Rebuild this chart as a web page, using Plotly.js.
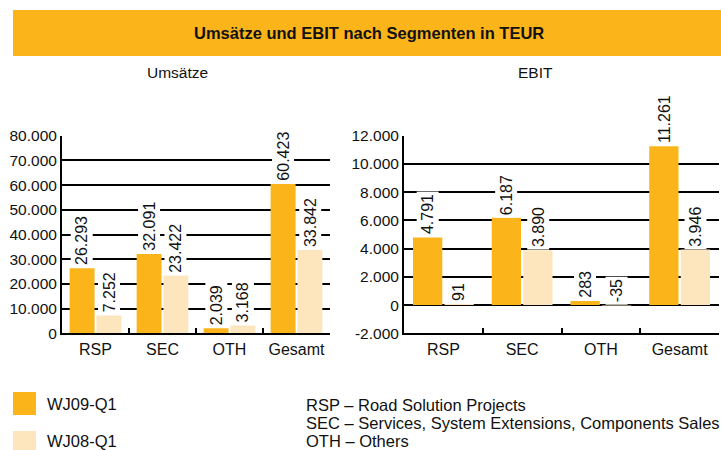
<!DOCTYPE html>
<html>
<head>
<meta charset="utf-8">
<script src="https://cdn.plot.ly/plotly-3.0.1.min.js"></script>
<style>
  html, body { margin: 0; padding: 0; background: #fff; }
  #chart { width: 721px; height: 450px; }
</style>
</head>
<body>
<div id="chart"></div>
<script>
// Segment data (TEUR)
const segments = ["RSP", "SEC", "OTH", "Gesamt"];
const seriesNames = ["WJ09-Q1", "WJ08-Q1"];
const umsatzWJ09 = [26293, 32091, 2039, 60423];
const umsatzWJ08 = [7252, 23422, 3168, 33842];
const ebitWJ09 = [4791, 6187, 283, 11261];
const ebitWJ08 = [91, 3890, -35, 3946];
const umsatzTicks = [0, 10000, 20000, 30000, 40000, 50000, 60000, 70000, 80000];
const ebitTicks = [-2000, 0, 2000, 4000, 6000, 8000, 10000, 12000];
const segmentNotes = [
  "RSP \u2013 Road Solution Projects",
  "SEC \u2013 Services, System Extensions, Components Sales",
  "OTH \u2013 Others"
];

const ORANGE = '#FBB41A';
const CREAM = '#FDE6BE';
const FONT = 'Liberation Sans, Arial, sans-serif';
const INK = '#111';
const W = 721, H = 450;
const BARGAP = 0.2;

// pixel -> paper helpers for the decoration
const px = x => x / W;
const py = y => 1 - y / H;

// German number format: 60.423, -2.000
function de(v) {
  const s = Math.abs(v).toString().replace(/\B(?=(\d{3})+(?!\d))/g, '.');
  return (v < 0 ? '-' : '') + s;
}

function barTrace(name, y, color, xa, ya) {
  return {
    type: 'bar', name: name, x: segments, y: y,
    xaxis: xa, yaxis: ya,
    marker: { color: color, line: { width: 0 } },
    showlegend: false, hoverinfo: 'skip'
  };
}

const traces = [
  barTrace(seriesNames[0], umsatzWJ09, ORANGE, 'x', 'y'),
  barTrace(seriesNames[1], umsatzWJ08, CREAM, 'x', 'y'),
  barTrace(seriesNames[0], ebitWJ09, ORANGE, 'x2', 'y2'),
  barTrace(seriesNames[1], ebitWJ08, CREAM, 'x2', 'y2')
];

// value labels, rotated, sitting on the bars
const annotations = [];
const off = (1 - BARGAP) / 4;
function addLabels(values, shift, xref, yref) {
  values.forEach((v, i) => {
    annotations.push({
      x: i + shift, y: Math.max(v, 0), xref: xref, yref: yref,
      text: de(v), textangle: -90, showarrow: false,
      xanchor: 'center', yanchor: 'bottom', yshift: 0,
      bgcolor: '#fff', borderpad: 2,
      font: { family: FONT, size: 16, color: INK }
    });
  });
}
addLabels(umsatzWJ09, -off, 'x', 'y');
addLabels(umsatzWJ08, off, 'x', 'y');
addLabels(ebitWJ09, -off, 'x2', 'y2');
addLabels(ebitWJ08, off, 'x2', 'y2');

// headings
annotations.push(
  { text: '<b>Umsätze und EBIT nach Segmenten in TEUR</b>', x: px(369), y: py(33),
    xref: 'paper', yref: 'paper', showarrow: false, xanchor: 'center', yanchor: 'middle',
    font: { family: FONT, size: 16.5, color: INK } },
  { text: 'Umsätze', x: px(177), y: py(72), xref: 'paper', yref: 'paper', showarrow: false,
    xanchor: 'center', yanchor: 'middle', font: { family: FONT, size: 15.5, color: INK } },
  { text: 'EBIT', x: px(535), y: py(72), xref: 'paper', yref: 'paper', showarrow: false,
    xanchor: 'center', yanchor: 'middle', font: { family: FONT, size: 15.5, color: INK } }
);

// legend + segment key
const legendColors = [ORANGE, CREAM];
const shapes = [
  { type: 'rect', xref: 'paper', yref: 'paper', x0: px(13), x1: 1, y0: py(56), y1: py(10),
    fillcolor: ORANGE, line: { width: 0 }, layer: 'below' }
];
seriesNames.forEach((n, i) => {
  const top = 392 + i * 39;
  shapes.push({ type: 'rect', xref: 'paper', yref: 'paper', x0: px(13), x1: px(36),
    y0: py(top + 23), y1: py(top), fillcolor: legendColors[i], line: { width: 0 } });
  annotations.push({ text: n, x: px(45), y: py(top + 12 - i * 2), xref: 'paper', yref: 'paper',
    showarrow: false, xanchor: 'left', yanchor: 'middle',
    font: { family: FONT, size: 16.5, color: INK } });
});
segmentNotes.forEach((t, i) => {
  annotations.push({ text: t, x: px(304), y: py(405 + i * 18), xref: 'paper', yref: 'paper',
    showarrow: false, xanchor: 'left', yanchor: 'middle',
    font: { family: FONT, size: 16.5, color: INK } });
});

const xBase = {
  type: 'category', showline: true, linecolor: '#000', linewidth: 2,
  ticks: 'inside', tickson: 'boundaries', ticklen: 5, tickwidth: 2, tickcolor: '#000',
  showgrid: false, zeroline: false, fixedrange: true,
  tickfont: { family: FONT, size: 16, color: INK }
};
const yBase = {
  showline: true, linecolor: '#000', linewidth: 2, ticks: '',
  showgrid: true, gridcolor: '#000', gridwidth: 2,
  fixedrange: true, tickfont: { family: FONT, size: 15.5, color: INK }
};

const layout = {
  width: W, height: H,
  margin: { l: 0, r: 0, t: 0, b: 0 },
  paper_bgcolor: '#fff', plot_bgcolor: '#fff',
  font: { family: FONT, size: 15, color: INK },
  barmode: 'group', bargap: BARGAP, bargroupgap: 0.07,
  showlegend: false,
  xaxis: Object.assign({}, xBase, { domain: [px(62), px(330)], anchor: 'y' }),
  xaxis2: Object.assign({}, xBase, { domain: [px(404), px(719)], anchor: 'y2' }),
  yaxis: Object.assign({}, yBase, {
    domain: [py(333.3), py(135.7)], anchor: 'x', range: [0, 80000],
    tickvals: umsatzTicks, ticktext: umsatzTicks.map(de), zeroline: false
  }),
  yaxis2: Object.assign({}, yBase, {
    domain: [py(333.3), py(135.7)], anchor: 'x2', range: [-2000, 12000],
    tickvals: ebitTicks, ticktext: ebitTicks.map(de),
    zeroline: true, zerolinecolor: '#000', zerolinewidth: 2
  }),
  shapes: shapes,
  annotations: annotations
};

Plotly.newPlot('chart', traces, layout, { displayModeBar: false, staticPlot: true });
</script>
</body>
</html>
